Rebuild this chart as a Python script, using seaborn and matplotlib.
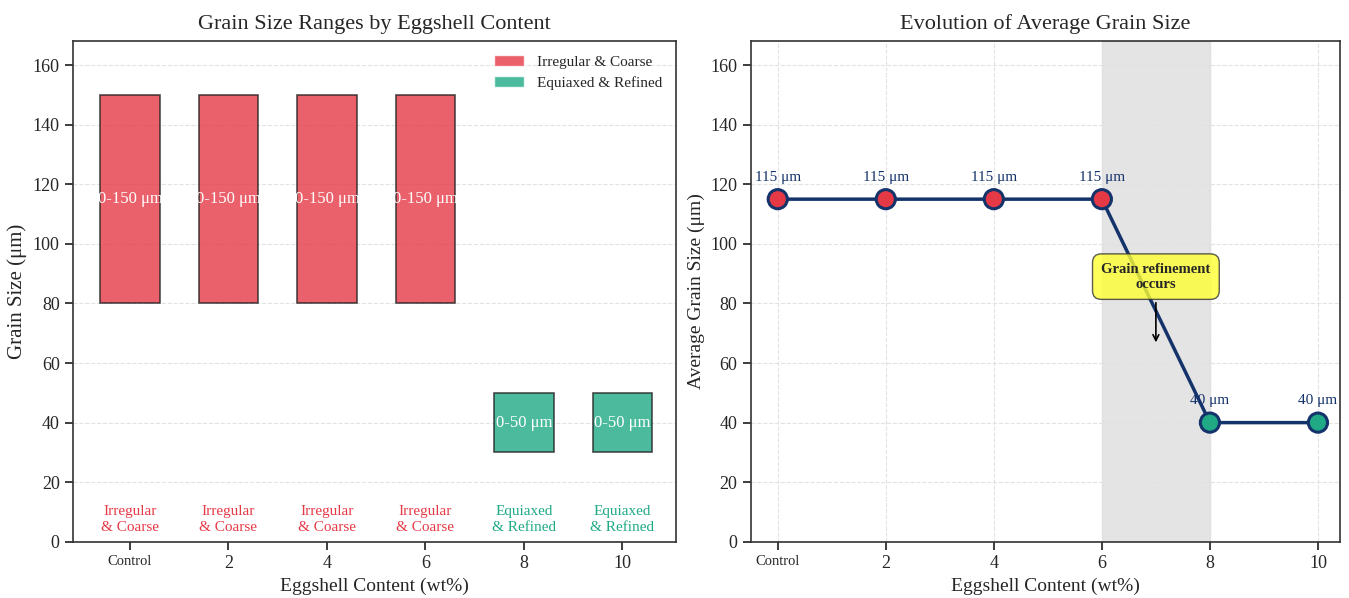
import numpy as np
import pandas as pd
import seaborn as sns
import matplotlib.pyplot as plt
from matplotlib.patches import Patch

# data
labels = ["Control", "2", "4", "6", "8", "10"]
content = [0, 2, 4, 6, 8, 10]
range_low = [80, 80, 80, 80, 30, 30]
range_high = [150, 150, 150, 150, 50, 50]
range_text = ["0-150 μm", "0-150 μm", "0-150 μm", "0-150 μm", "0-50 μm", "0-50 μm"]
morphology = ["Irregular & Coarse"] * 4 + ["Equiaxed & Refined"] * 2
avg_size = [115, 115, 115, 115, 40, 40]

RED = "#e63946"
GREEN = "#1faa85"
NAVY = "#15336b"
colors = {"Irregular & Coarse": RED, "Equiaxed & Refined": GREEN}

sns.set_theme(style="ticks")
plt.rcParams['font.family'] = ['Liberation Serif', 'DejaVu Serif']
plt.rcParams['axes.edgecolor'] = '#333333'
plt.rcParams['axes.linewidth'] = 1.2

fig, (ax1, ax2) = plt.subplots(1, 2, figsize=(13.49, 5.98), dpi=100,
                               gridspec_kw={'width_ratios': [603, 589]})
fig.subplots_adjust(left=0.054, right=0.993, top=0.931, bottom=0.094, wspace=0.126)

# ---- left: floating range bars
df = pd.DataFrame({"label": labels, "low": range_low, "high": range_high,
                   "morph": morphology, "txt": range_text})
pos = np.arange(len(df))
for i, r in df.iterrows():
    ax1.bar(pos[i], r["high"] - r["low"], bottom=r["low"], width=0.6,
            color=colors[r["morph"]], alpha=0.8, edgecolor='#222222',
            linewidth=1.2, zorder=3)
    ax1.text(pos[i], (r["high"] + r["low"]) / 2, r["txt"], ha='center', va='center',
             color='white', fontsize=12, zorder=4)
    ax1.text(pos[i], 7.5, r["morph"].replace(" & ", "\n& "), ha='center', va='center',
             color=colors[r["morph"]], fontsize=11, linespacing=1.25, zorder=4)

ax1.set_xlim(-0.58, 5.54)
ax1.set_ylim(0, 168)
ax1.set_xticks(pos)
ax1.set_xticklabels(labels)
ax1.get_xticklabels()[0].set_fontsize(10.5)
for t in ax1.get_xticklabels()[1:]:
    t.set_fontsize(13)
ax1.tick_params(axis='y', labelsize=13)
ax1.yaxis.grid(True, linestyle='--', color='#e2e2e2', linewidth=0.8)
ax1.xaxis.grid(False)
ax1.set_axisbelow(True)
ax1.set_xlabel("Eggshell Content (wt%)", fontsize=14)
ax1.set_ylabel("Grain Size (μm)", fontsize=15)
ax1.set_title("Grain Size Ranges by Eggshell Content", fontsize=16, pad=9)
handles = [Patch(facecolor=c, alpha=0.8, label=k) for k, c in colors.items()]
ax1.legend(handles=handles, loc='upper right', frameon=False, fontsize=11)

# ---- right: average grain size evolution
df2 = pd.DataFrame({"content": content, "size": avg_size, "morph": morphology})
ax2.axvspan(6, 8, color='#d9d9d9', alpha=0.7, zorder=0)
sns.lineplot(data=df2, x="content", y="size", color=NAVY, linewidth=2.5, ax=ax2, zorder=3)
sns.scatterplot(data=df2, x="content", y="size", hue="morph", palette=colors,
                s=190, edgecolor=NAVY, linewidth=2.2, legend=False, ax=ax2, zorder=4)
for x, y in zip(content, avg_size):
    ax2.annotate(f"{y} μm", (x, y), xytext=(0, 11), textcoords='offset points',
                 ha='center', va='bottom', color=NAVY, fontsize=11)
ax2.annotate("Grain refinement\noccurs", xy=(7, 66), xytext=(7, 89),
             ha='center', va='center', fontsize=10.5, fontweight='bold',
             bbox=dict(boxstyle='round,pad=0.6', fc='#ffff33', ec='#333333', alpha=0.8),
             arrowprops=dict(arrowstyle='->', color='black', lw=1.2), zorder=5)

ax2.set_xlim(-0.5, 10.4)
ax2.set_ylim(0, 168)
ax2.set_xticks(content)
ax2.set_xticklabels(labels)
ax2.get_xticklabels()[0].set_fontsize(10.5)
for t in ax2.get_xticklabels()[1:]:
    t.set_fontsize(13)
ax2.tick_params(axis='y', labelsize=13)
ax2.grid(True, linestyle='--', color='#e2e2e2', linewidth=0.8)
ax2.set_axisbelow(True)
ax2.set_xlabel("Eggshell Content (wt%)", fontsize=14)
ax2.set_ylabel("Average Grain Size (μm)", fontsize=14)
ax2.set_title("Evolution of Average Grain Size", fontsize=16, pad=9)

fig.savefig("out.png", dpi=100)
